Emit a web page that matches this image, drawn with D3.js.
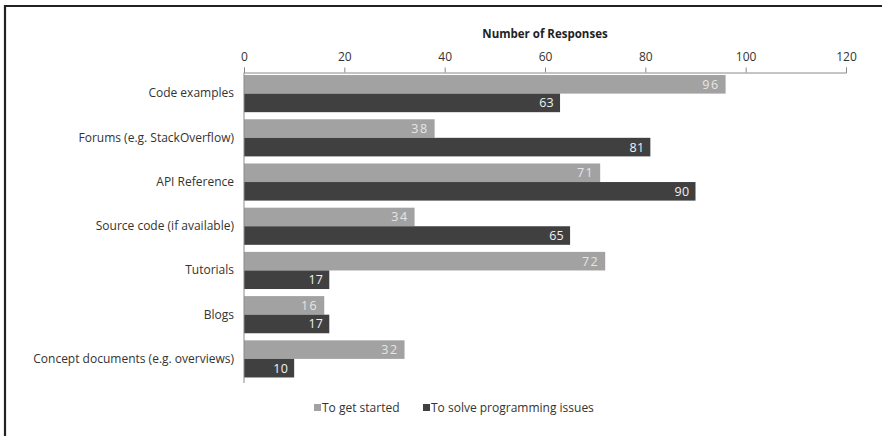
<!DOCTYPE html>
<html lang="en">
    <head>
        <meta charset="utf-8">
        <title>Documentation use</title>
        <script src="https://d3js.org/d3.v7.min.js"></script>
        <style>
            body { margin: 0; background: #fff; }
            svg#chart, svg#chart text { font-family: "Open Sans", sans-serif; }
        </style>
    </head>
    <body>
        <svg id="chart" width="882" height="436"></svg>
        <script type="text/javascript">
            // data
            const categories = ["Code examples", "Forums (e.g. StackOverflow)", "API Reference",
                "Source code (if available)", "Tutorials", "Blogs", "Concept documents (e.g. overviews)"];
            const series_names = ["To get started", "To solve programming issues"];
            const get_started = [96, 38, 71, 34, 72, 16, 32];
            const solve_issues = [63, 81, 90, 65, 17, 17, 10];
            const x_ticks = [0, 20, 40, 60, 80, 100, 120];

            const colors = ["#a2a2a2", "#404040"];
            const label_colors = ["#e6e6e6", "#f2f2f2"];

            let rows = [];
            for (i = 0; i < categories.length; i++){
                rows.push({cat: categories[i], s: 0, v: get_started[i]});
                rows.push({cat: categories[i], s: 1, v: solve_issues[i]});
            };

            var svg = d3.select('#chart');

            // frame, only top and left edges show
            svg.append("path").attr("d", "M 5 436 V 6 H 882")
                .attr("fill", "none").attr("stroke", "#222").attr("stroke-width", 2.2);

            let x = d3.scaleLinear().domain([0, 120]).range([244, 846]);
            let y = d3.scaleBand().domain(categories).range([71.5, 381]).paddingInner(0.16).paddingOuter(0.08);
            let ySub = d3.scaleBand().domain([0, 1]).range([0, y.bandwidth()]);

            // top axis
            let xAxis = d3.axisTop(x).tickValues(x_ticks).tickSize(5).tickSizeOuter(5).tickPadding(7);
            let gx = svg.append("g").attr("transform", "translate(0,72.5)").call(xAxis)
                .attr("font-family", null).attr("font-size", null);
            gx.select(".domain").attr("stroke", "#8a8a8a");
            gx.selectAll(".tick line").attr("stroke", "#8a8a8a");
            gx.selectAll(".tick text").attr("fill", "#333").attr("font-size", 12);

            svg.append("text").attr("x", (x(0) + x(120)) / 2).attr("y", 38)
                .attr("text-anchor", "middle").attr("font-weight", "bold")
                .attr("font-size", 11.5).attr("fill", "#222").text("Number of Responses");

            // bars
            svg.selectAll("rect.bar").data(rows).enter().append("rect")
                .attr("class", "bar")
                .attr("x", x(0))
                .attr("y", d => y(d.cat) + ySub(d.s))
                .attr("width", d => x(d.v) - x(0))
                .attr("height", ySub.bandwidth())
                .attr("fill", d => colors[d.s]);

            svg.selectAll("text.val").data(rows).enter().append("text")
                .attr("class", "val")
                .attr("x", d => x(d.v) - 6)
                .attr("y", d => y(d.cat) + ySub(d.s) + ySub.bandwidth() / 2)
                .attr("dy", "0.36em")
                .attr("text-anchor", "end")
                .attr("font-size", 12.5)
                .attr("letter-spacing", d => d.s == 0 ? 1.5 : 0.3)
                .attr("fill", d => label_colors[d.s])
                .text(d => d.v);

            // left axis: just the line and category labels
            let yAxis = d3.axisLeft(y).tickSize(0).tickPadding(10);
            let gy = svg.append("g").attr("transform", "translate(" + x(0) + ",0)").call(yAxis)
                .attr("font-family", null).attr("font-size", null);
            gy.select(".domain").attr("d", "M0,72.5V383").attr("stroke", "#8a8a8a");
            gy.selectAll(".tick text").attr("fill", "#333").attr("font-size", 12);

            // legend
            let legend = svg.append("g").attr("id", "legend").attr("transform", "translate(314,408)");
            let legend_x = [0, 109];
            let items = legend.selectAll("g.item").data(series_names).enter()
                .append("g").attr("class", "item")
                .attr("transform", (d, i) => "translate(" + legend_x[i] + ",0)");
            items.append("rect").attr("x", 0).attr("y", -4).attr("width", 7).attr("height", 7)
                .attr("fill", (d, i) => colors[i]);
            items.append("text").attr("x", 8).attr("y", 0).attr("dy", "0.35em")
                .attr("font-size", 12).attr("fill", "#333").text(d => d);
        </script>
    </body>
</html>
